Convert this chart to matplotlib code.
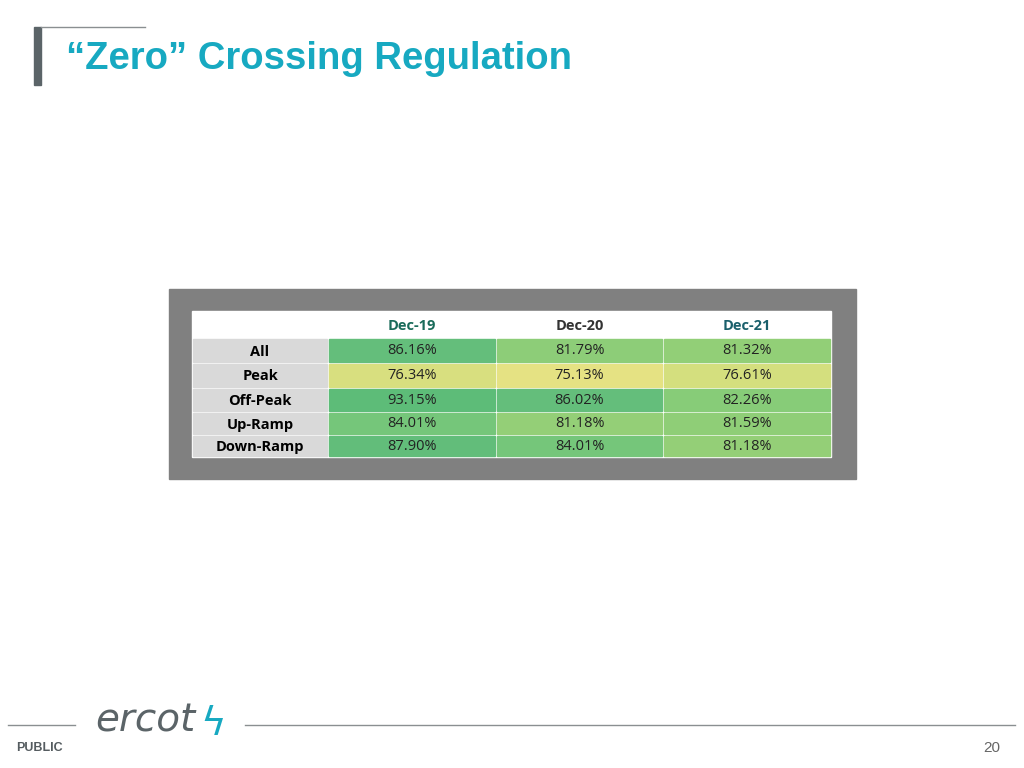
import matplotlib.pyplot as plt
from matplotlib.patches import Rectangle
from matplotlib.colors import LinearSegmentedColormap

# data
months = ["Dec-19", "Dec-20", "Dec-21"]
month_colors = ["#1a6b5a", "#333333", "#1a5f6b"]
rows = ["All", "Peak", "Off-Peak", "Up-Ramp", "Down-Ramp"]
dec19 = [86.16, 76.34, 93.15, 84.01, 87.90]
dec20 = [81.79, 75.13, 86.02, 81.18, 84.01]
dec21 = [81.32, 76.61, 82.26, 81.59, 81.18]
series = [dec19, dec20, dec21]

cmap = LinearSegmentedColormap.from_list(
    "ry", [(0.0, "#e6e283"), (0.08, "#d6df7e"), (0.34, "#93cf77"),
           (0.5, "#74c67a"), (0.6, "#64be7b"), (1.0, "#5dbc78")])
vmin, vmax = 75.0, 93.2

fig = plt.figure(figsize=(10.24, 7.68), dpi=100)
ax = fig.add_axes([0, 0, 1, 1])
ax.set_xlim(0, 1024)
ax.set_ylim(768, 0)
ax.axis("off")

# header
ax.plot([41, 145], [27, 27], color="#8a8f91", lw=1)
ax.add_patch(Rectangle((34, 27), 7, 58, color="#5b6468"))
ax.text(66, 59, "\u201cZero\u201d Crossing Regulation", fontsize=27.5, fontweight="bold",
        color="#17a9c1", family="Liberation Sans", va="center", ha="left")

# table frame
ax.add_patch(Rectangle((169, 289), 687, 190, color="#808080"))
ax.add_patch(Rectangle((192, 311), 639, 146, color="white"))

col_x = [192, 328, 496, 663, 831]
row_y = [311, 338, 363, 388, 412, 435, 457]

for j, m in enumerate(months):
    cx = (col_x[j + 1] + col_x[j + 2]) / 2
    ax.text(cx, (row_y[0] + row_y[1]) / 2 + 2, m, ha="center", va="center",
            fontsize=10.5, fontweight="bold", color=month_colors[j], family="Open Sans")

for i, r in enumerate(rows):
    y0, y1 = row_y[i + 1], row_y[i + 2]
    ax.add_patch(Rectangle((col_x[0] + 1, y0 + 1), col_x[1] - col_x[0] - 2, y1 - y0 - 2,
                           color="#d9d9d9"))
    ax.text((col_x[0] + col_x[1]) / 2, (y0 + y1) / 2 + 1, r, ha="center", va="center",
            fontsize=10.5, fontweight="bold", color="black", family="Open Sans")
    for j, s in enumerate(series):
        v = s[i]
        c = cmap((v - vmin) / (vmax - vmin))
        ax.add_patch(Rectangle((col_x[j + 1] + 1, y0 + 1), col_x[j + 2] - col_x[j + 1] - 2,
                               y1 - y0 - 2, color=c))
        ax.text((col_x[j + 1] + col_x[j + 2]) / 2, (y0 + y1) / 2, f"{v:.2f}%",
                ha="center", va="center", fontsize=10.5, color="#222222", family="Open Sans")

# footer
ax.plot([8, 75], [725, 725], color="#8a8f91", lw=1)
ax.plot([245, 1015], [725, 725], color="#8a8f91", lw=1)
ax.text(16, 748, "PUBLIC", fontsize=9, fontweight="bold", color="#555c60",
        family="Liberation Sans", va="center")
ax.text(95, 720, "ercot", fontsize=28, style="italic", color="#5b6468",
        family="Liberation Sans Narrow", va="center")
ax.text(200, 724, "\u03DF", fontsize=28, color="#17a9c1", va="center")
ax.text(1000, 748, "20", fontsize=11, color="#666666", family="Liberation Sans",
        va="center", ha="right")

fig.savefig("out.png", dpi=100)
